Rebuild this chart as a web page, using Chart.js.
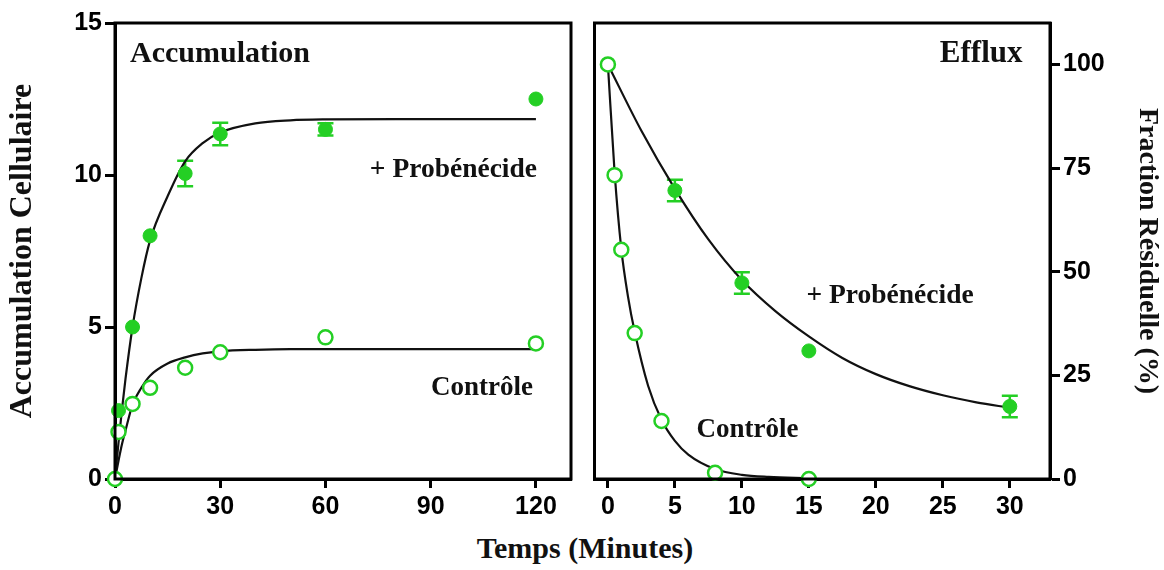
<!DOCTYPE html>
<html>
<head>
<meta charset="utf-8">
<script src="https://cdn.jsdelivr.net/npm/chart.js@4"></script>
<style>
  body { margin: 0; background: #fff; }
  #wrap { position: relative; width: 1164px; height: 570px; background: #fff; }
  #accBox { position: absolute; left: 0; top: 0; width: 585px; height: 520px; }
  #effBox { position: absolute; left: 585px; top: 0; width: 579px; height: 520px; }
  #xTitle {
    position: absolute; left: 0; top: 531px; width: 1170px; text-align: center;
    font: bold 30px "Liberation Serif", "Times New Roman", serif; color: #111;
  }
</style>
</head>
<body>
<div id="wrap">
  <div id="accBox"><canvas id="accChart"></canvas></div>
  <div id="effBox"><canvas id="effChart"></canvas></div>
  <div id="xTitle">Temps (Minutes)</div>
</div>
<script>
// Accumulation panel (minutes)
const accTimes = [0, 1, 5, 10, 20, 30, 60, 120];
const accProbenecide = [0, 2.25, 5.0, 8.0, 10.05, 11.35, 11.5, 12.5];
const accProbenecideErr = [0, 0, 0, 0, 0.42, 0.37, 0.2, 0];
const accControle = [0, 1.55, 2.47, 3.0, 3.66, 4.17, 4.66, 4.46];

// fitted curves
const accFitTimes = [0, 1, 2, 3, 5, 7.5, 10, 15, 20, 25, 30, 40, 50, 60, 80, 100, 120];
const accProbenecideFit = [0, 1.2, 2.3, 3.3, 5.0, 6.6, 7.85, 9.3, 10.45, 11.05, 11.4, 11.7, 11.8, 11.83, 11.84, 11.84, 11.84];
const accControleFit = [0, 0.6, 1.15, 1.6, 2.45, 3.0, 3.4, 3.8, 4.0, 4.13, 4.2, 4.25, 4.27, 4.27, 4.27, 4.27, 4.27];

// Efflux panel (minutes, % residual)
const effProbTimes = [0, 5, 10, 15, 30];
const effProbenecide = [100, 69.6, 47.3, 30.9, 17.5];
const effProbenecideErr = [0, 2.6, 2.6, 0, 2.6];
const effCtrlTimes = [0, 0.5, 1, 2, 4, 8, 15];
const effControle = [100, 73.3, 55.3, 35.2, 14.0, 1.5, 0];

const effProbFitTimes = [0, 2.5, 5, 7.5, 10, 12.5, 15, 17.5, 20, 22.5, 25, 27.5, 30];
const effProbenecideFit = [100, 84, 70, 57.8, 48, 40.5, 34.4, 29.2, 25.3, 22.4, 20.2, 18.5, 17.2];
const effCtrlFitTimes = [0, 0.5, 1, 1.5, 2, 3, 4, 5, 6, 8, 10, 12, 15];
const effControleFit = [100, 74, 55.5, 44, 35.5, 22.5, 14.3, 9.2, 5.9, 2.4, 1.0, 0.5, 0.2];

const accYTicks = [0, 5, 10, 15];
const effYTicks = [0, 25, 50, 75, 100];

const GREEN = '#24cf24';
const SERIF = '"Liberation Serif", "Times New Roman", serif';
const tickFont = { family: '"Liberation Sans", Arial, sans-serif', size: 25, weight: 'bold' };

function pts(xs, ys) {
  return xs.map((x, i) => ({ x: x, y: ys[i] }));
}

function fitLine(xs, ys) {
  return {
    type: 'line', data: pts(xs, ys), showLine: true, pointRadius: 0,
    borderColor: '#111', borderWidth: 2.2, cubicInterpolationMode: 'monotone',
    clip: false, order: 3
  };
}

function filled(xs, ys) {
  return {
    data: pts(xs, ys), pointRadius: 7, pointBackgroundColor: GREEN,
    pointBorderColor: GREEN, pointBorderWidth: 1, clip: false, order: 2
  };
}

function hollow(xs, ys) {
  return {
    data: pts(xs, ys), pointRadius: 7, pointBackgroundColor: '#fff',
    pointBorderColor: GREEN, pointBorderWidth: 2.5, clip: false, order: 1
  };
}

// box round the plot, error bars, panel notes
const panelExtras = {
  id: 'panelExtras',
  beforeDatasetsDraw(chart, args, opts) {
    const { ctx, scales: { x, y } } = chart;
    ctx.save();
    ctx.strokeStyle = GREEN;
    ctx.lineWidth = 2.5;
    (opts.errors || []).forEach(e => {
      e.t.forEach((t, i) => {
        if (!e.err[i]) return;
        const px = x.getPixelForValue(t);
        const top = y.getPixelForValue(e.v[i] + e.err[i]);
        const bot = y.getPixelForValue(e.v[i] - e.err[i]);
        ctx.beginPath();
        ctx.moveTo(px, top); ctx.lineTo(px, bot);
        ctx.moveTo(px - 8, top); ctx.lineTo(px + 8, top);
        ctx.moveTo(px - 8, bot); ctx.lineTo(px + 8, bot);
        ctx.stroke();
      });
    });
    ctx.restore();
  },
  afterDraw(chart, args, opts) {
    const { ctx, chartArea: a } = chart;
    ctx.save();
    ctx.strokeStyle = '#000';
    ctx.lineWidth = 3;
    ctx.strokeRect(a.left, a.top, a.right - a.left, a.bottom - a.top);
    ctx.fillStyle = '#111';
    ctx.textBaseline = 'alphabetic';
    (opts.notes || []).forEach(n => {
      ctx.font = 'bold ' + n.size + 'px ' + SERIF;
      ctx.textAlign = n.align;
      ctx.fillText(n.text, a.left + n.dx, a.top + n.dy);
    });
    ctx.restore();
  }
};

function xScale(min, max, step) {
  return {
    type: 'linear', min: min, max: max,
    ticks: { stepSize: step, includeBounds: false, color: '#000', font: tickFont, padding: 4 },
    grid: { drawOnChartArea: false, tickLength: 9, tickWidth: 3, tickColor: '#000' },
    border: { color: '#000', width: 3 },
    afterFit: s => { s.height = 41; }
  };
}

function yScale(min, max, step, tickList, side, title, titleSize, width, titlePad) {
  return {
    type: 'linear', position: side, min: min, max: max,
    afterBuildTicks: s => { s.ticks = tickList.map(v => ({ value: v })); },
    ticks: { stepSize: step, color: '#000', font: tickFont, padding: 3 },
    grid: { drawOnChartArea: false, tickLength: 10, tickWidth: 3, tickColor: '#000' },
    border: { color: '#000', width: 3 },
    title: {
      display: true, text: title, color: '#111',
      font: { family: SERIF, size: titleSize, weight: 'bold' },
      padding: { top: titlePad, bottom: 0 }
    },
    afterFit: s => { s.width = width; }
  };
}

const common = {
  responsive: true, maintainAspectRatio: false, animation: false,
  plugins: { legend: { display: false }, tooltip: { enabled: false } }
};

new Chart(document.getElementById('accChart'), {
  type: 'scatter',
  data: {
    datasets: [
      fitLine(accFitTimes, accProbenecideFit),
      fitLine(accFitTimes, accControleFit),
      filled(accTimes, accProbenecide),
      hollow(accTimes, accControle)
    ]
  },
  options: {
    ...common,
    layout: { padding: { top: 23, right: 14, left: 0, bottom: 0 } },
    scales: {
      x: xScale(0, 130, 30),
      y: yScale(0, 15, 5, accYTicks, 'left', 'Accumulation Cellulaire', 32, 115, 4)
    },
    plugins: {
      ...common.plugins,
      panelExtras: {
        errors: [{ t: accTimes, v: accProbenecide, err: accProbenecideErr }],
        notes: [
          { text: 'Accumulation', size: 30, align: 'left', dx: 15, dy: 39 },
          { text: '+ Probénécide', size: 27.5, align: 'right', dx: 422, dy: 154 },
          { text: 'Contrôle', size: 27, align: 'right', dx: 418, dy: 372 }
        ]
      }
    }
  },
  plugins: [panelExtras]
});

new Chart(document.getElementById('effChart'), {
  type: 'scatter',
  data: {
    datasets: [
      fitLine(effProbFitTimes, effProbenecideFit),
      fitLine(effCtrlFitTimes, effControleFit),
      filled(effProbTimes, effProbenecide),
      hollow(effCtrlTimes, effControle)
    ]
  },
  options: {
    ...common,
    layout: { padding: { top: 23, right: 0, left: 8, bottom: 0 } },
    scales: {
      x: xScale(-1, 33, 5),
      y: yScale(0, 110, 25, effYTicks, 'right', 'Fraction Résiduelle (%)', 28, 114, 0)
    },
    plugins: {
      ...common.plugins,
      panelExtras: {
        errors: [{ t: effProbTimes, v: effProbenecide, err: effProbenecideErr }],
        notes: [
          { text: 'Efflux', size: 31, align: 'right', dx: 428, dy: 39 },
          { text: '+ Probénécide', size: 27.5, align: 'left', dx: 212, dy: 280 },
          { text: 'Contrôle', size: 27, align: 'left', dx: 102, dy: 414 }
        ]
      }
    }
  },
  plugins: [panelExtras]
});
</script>
</body>
</html>
